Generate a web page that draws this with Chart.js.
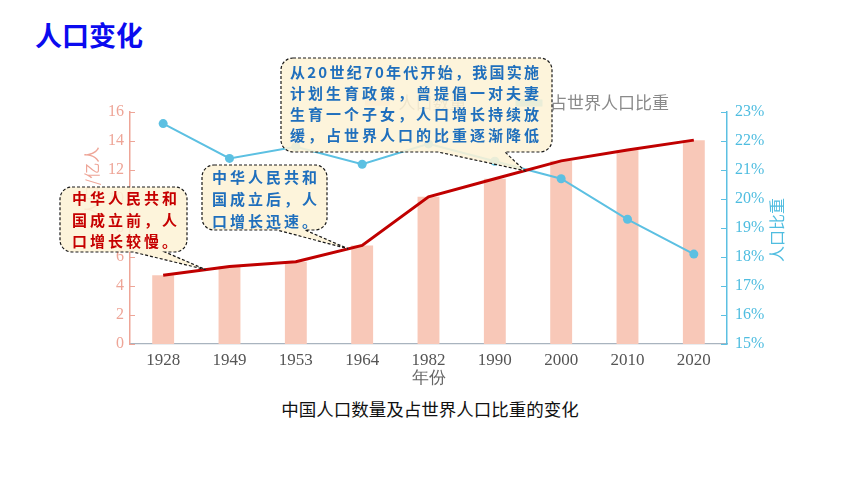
<!DOCTYPE html>
<html>
<head>
<meta charset="utf-8">
<script src="https://cdn.jsdelivr.net/npm/chart.js@4/dist/chart.umd.min.js"></script>
<style>
  html, body { margin: 0; padding: 0; background: #fff; }
  #wrap { position: relative; width: 860px; height: 484px; overflow: hidden; }
  #heading { position: absolute; left: 35px; top: 15px; font: bold 27px "Noto Sans CJK SC", sans-serif; color: #0b0bef; }
  #caption { position: absolute; left: 0; width: 860px; top: 396px; text-align: center; font: 17.5px "Noto Sans CJK SC", sans-serif; color: #111; }
  canvas { position: absolute; left: 0; top: 0; }
</style>
</head>
<body>
<div id="wrap">
  <div id="heading">人口变化</div>
  <div id="caption">中国人口数量及占世界人口比重的变化</div>
  <canvas id="c" width="860" height="484"></canvas>
</div>
<script>
// Census years on the category axis
const years = ['1928', '1949', '1953', '1964', '1982', '1990', '2000', '2010', '2020'];
// China's population, 亿人
const population = [4.74, 5.35, 5.68, 6.8, 10.15, 11.4, 12.63, 13.38, 14.06];
// Share of the world population, %
const worldShare = [22.6, 21.4, 21.8, 21.2, 21.9, 21.3, 20.7, 19.3, 18.1];
// Axis ranges
const popTicks = [0, 2, 4, 6, 8, 10, 12, 14, 16];
const shareTicks = [15, 16, 17, 18, 19, 20, 21, 22, 23];

// Speech-bubble notes; `at` is a (fractional) category index on the population line
const notes = [
  { lines: ['中华人民共和', '国成立前，人', '口增长较慢。'], color: '#c60000',
    box: [60, 187, 127, 65], text: [72, 177], lineY: [198.5, 220, 241.5], base: [133, 165], at: 0.64 },
  { lines: ['中华人民共和', '国成立后，人', '口增长迅速。'], color: '#1f6fbd',
    box: [202, 165, 125, 65], text: [212, 317], lineY: [177, 199, 221], base: [277, 305], at: 2.79 },
  { lines: ['从20世纪70年代开始，我国实施', '计划生育政策，曾提倡一对夫妻', '生育一个子女，人口增长持续放', '缓，占世界人口的比重逐渐降低'],
    color: '#1f6fbd',
    box: [281, 58, 271, 94], text: [290, 539], lineY: [72.5, 93.5, 114, 135], base: [438, 505], at: 5.45 }
];

const PINK = '#f8c8b8';
const PINK_AXIS = '#eea597';
const CYAN = '#5cc0e2';
const CYAN_TEXT = '#4fbde0';
const SERIF = '"Liberation Serif", "Times New Roman", serif';
const CJK = '"Noto Sans CJK SC", sans-serif';

// inward tick marks on both value axes
const innerTicks = {
  id: 'innerTicks',
  afterDatasetsDraw(chart) {
    const { ctx } = chart;
    const y = chart.scales.y, y1 = chart.scales.y1;
    ctx.save();
    ctx.lineWidth = 1;
    ctx.strokeStyle = PINK_AXIS;
    y.ticks.forEach((t, i) => {
      const py = Math.round(y.getPixelForTick(i)) + 0.5;
      ctx.beginPath(); ctx.moveTo(y.right, py); ctx.lineTo(y.right + 5, py); ctx.stroke();
    });
    ctx.strokeStyle = CYAN;
    y1.ticks.forEach((t, i) => {
      const py = Math.round(y1.getPixelForTick(i)) + 0.5;
      ctx.beginPath(); ctx.moveTo(y1.left, py); ctx.lineTo(y1.left - 6, py); ctx.stroke();
    });
    ctx.restore();
  }
};

// vertical axis titles (both read bottom-to-top)
const axisTitles = {
  id: 'axisTitles',
  beforeDatasetsDraw(chart) {
    const { ctx } = chart;
    const draw = (txt, x, y, color) => {
      ctx.save();
      ctx.translate(x, y);
      ctx.rotate(-Math.PI / 2);
      ctx.font = '16px ' + CJK;
      ctx.fillStyle = color;
      ctx.textAlign = 'center';
      ctx.textBaseline = 'middle';
      ctx.fillText(txt, 0, 0);
      ctx.restore();
    };
    const a = chart.chartArea;
    draw('人口/亿人', 92, 182, '#eea597');
    draw('人口比重', a.right + 50, 230, CYAN_TEXT);
  }
};

// legend placement above the plot
const legendPlace = {
  id: 'legendPlace',
  afterLayout(chart) {
    const lg = chart.legend;
    const pad = lg.options.labels.padding;
    lg.left = 365 - pad;
    lg.right = 860;
    lg.top = 103 - pad - 8.5;
    lg.bottom = 125;
    lg.width = lg.right - lg.left;
    lg.height = lg.bottom - lg.top;
  }
};

function drawJustified(ctx, str, x0, x1, y) {
  const chars = Array.from(str);
  const widths = chars.map(ch => ctx.measureText(ch).width);
  const total = widths.reduce((s, w) => s + w, 0);
  const gap = chars.length > 1 ? (x1 - x0 - total) / (chars.length - 1) : 0;
  let x = x0;
  chars.forEach((ch, i) => { ctx.fillText(ch, x, y); x += widths[i] + gap; });
}

// speech bubbles pointing at the population line
const bubbles = {
  id: 'bubbles',
  afterDraw(chart) {
    const { ctx } = chart;
    const xs = chart.scales.x, ys = chart.scales.y;
    notes.forEach(n => {
      const i0 = Math.floor(n.at), f = n.at - i0;
      const v = population[i0] + (population[i0 + 1] - population[i0]) * f;
      const tx = xs.getPixelForValue(n.at), ty = ys.getPixelForValue(v);
      const [bx, by, bw, bh] = n.box;
      const r = 12, bb = by + bh;
      ctx.save();
      ctx.beginPath();
      ctx.moveTo(bx + r, by);
      ctx.lineTo(bx + bw - r, by);
      ctx.arcTo(bx + bw, by, bx + bw, by + r, r);
      ctx.lineTo(bx + bw, bb - r);
      ctx.arcTo(bx + bw, bb, bx + bw - r, bb, r);
      ctx.lineTo(n.base[1], bb);
      ctx.lineTo(tx, ty);
      ctx.lineTo(n.base[0], bb);
      ctx.lineTo(bx + r, bb);
      ctx.arcTo(bx, bb, bx, bb - r, r);
      ctx.lineTo(bx, by + r);
      ctx.arcTo(bx, by, bx + r, by, r);
      ctx.closePath();
      ctx.fillStyle = 'rgba(253, 243, 214, 0.88)';
      ctx.fill();
      ctx.setLineDash([3, 2]);
      ctx.lineWidth = 1.2;
      ctx.strokeStyle = '#1a1a1a';
      ctx.stroke();
      ctx.setLineDash([]);
      ctx.font = 'bold 15px ' + CJK;
      ctx.fillStyle = n.color;
      ctx.textBaseline = 'middle';
      ctx.textAlign = 'left';
      n.lines.forEach((ln, k) => drawJustified(ctx, ln, n.text[0], n.text[1], n.lineY[k]));
      ctx.restore();
    });
  }
};

new Chart(document.getElementById('c'), {
  data: {
    labels: years,
    datasets: [
      { type: 'line', label: '人口增长', data: population, borderColor: '#c00000', borderWidth: 3,
        pointRadius: 0, tension: 0, yAxisID: 'y', order: 0 },
      { type: 'line', label: '占世界人口比重', data: worldShare, borderColor: CYAN, backgroundColor: CYAN,
        borderWidth: 2, pointRadius: 4.5, pointBackgroundColor: CYAN, pointBorderWidth: 0,
        tension: 0, yAxisID: 'y1', order: 1 },
      { type: 'bar', label: '人口数量', data: population, backgroundColor: PINK, borderWidth: 0,
        categoryPercentage: 1, barPercentage: 0.33, yAxisID: 'y', order: 2 }
    ]
  },
  options: {
    responsive: false,
    animation: false,
    layout: { padding: { left: 0, right: 0, top: 92, bottom: 94 } },
    plugins: {
      legend: {
        display: true,
        position: 'top',
        align: 'start',
        maxHeight: 20,
        reverse: true,
        labels: {
          filter: item => item.text !== '人口增长',
          boxWidth: 25, boxHeight: 5, padding: 50,
          color: '#8a8a8a',
          font: { family: CJK, size: 17 }
        }
      },
      tooltip: { enabled: false }
    },
    scales: {
      x: {
        type: 'category',
        offset: true,
        grid: { display: false, drawTicks: false },
        border: { display: true, color: '#a9b4bf', width: 1.2 },
        ticks: { color: '#555', font: { family: SERIF, size: 17 }, padding: 6, maxRotation: 0 },
        title: { display: true, text: '年份', color: '#666', font: { family: SERIF, size: 17 }, padding: { top: 0, bottom: 1 } },
        afterFit(s) { s.height = 46; }
      },
      y: {
        position: 'left',
        min: popTicks[0], max: popTicks[popTicks.length - 1],
        afterBuildTicks(s) { s.ticks = popTicks.map(v => ({ value: v })); },
        grid: { display: false, drawTicks: false },
        border: { display: true, color: PINK_AXIS, width: 1.5 },
        ticks: { color: '#eea597', font: { family: SERIF, size: 16 }, padding: 6 },
        afterFit(s) { s.width = 130; }
      },
      y1: {
        position: 'right',
        min: shareTicks[0], max: shareTicks[shareTicks.length - 1],
        afterBuildTicks(s) { s.ticks = shareTicks.map(v => ({ value: v })); },
        grid: { display: false, drawTicks: false },
        border: { display: true, color: CYAN, width: 1.5 },
        ticks: { color: CYAN_TEXT, font: { family: SERIF, size: 16 }, padding: 8, callback: v => v + '%' },
        afterFit(s) { s.width = 133; }
      }
    }
  },
  plugins: [legendPlace, innerTicks, axisTitles, bubbles]
});
</script>
</body>
</html>
